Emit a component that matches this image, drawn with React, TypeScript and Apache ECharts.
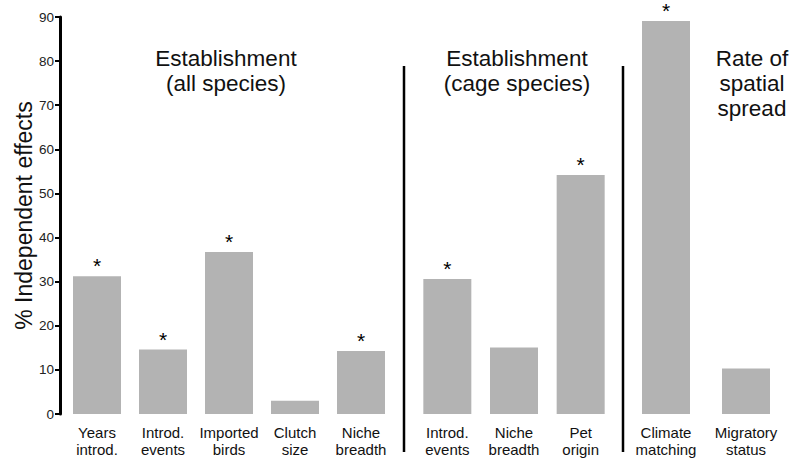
import React, { useEffect, useRef } from "react";
import * as echarts from "echarts";

const categoriesAll = ["Years\nintrod.", "Introd.\nevents", "Imported\nbirds", "Clutch\nsize", "Niche\nbreadth"];
const valuesAll = [31.2, 14.6, 36.7, 3.0, 14.3];
const sigAll = [true, true, true, false, true];

const categoriesCage = ["Introd.\nevents", "Niche\nbreadth", "Pet\norigin"];
const valuesCage = [30.6, 15.1, 54.2];
const sigCage = [true, false, true];

const categoriesSpread = ["Climate\nmatching", "Migratory\nstatus"];
const valuesSpread = [89.1, 10.3];
const sigSpread = [true, false];

const groupTitles = ["Establishment\n(all species)", "Establishment\n(cage species)", "Rate of\nspatial\nspread"];
const yTitle = "% Independent effects";
const yMin = 0;
const yMax = 90;
const yInterval = 10;

const FONT = "'Liberation Sans', Arial, Helvetica, sans-serif";
const BAR_COLOR = "#b3b3b3";

export default function App() {
  const ref = useRef<HTMLDivElement>(null);

  useEffect(() => {
    if (!ref.current) return;
    const chart = echarts.init(ref.current, null, { renderer: "svg" });

    const grids = [
      { left: 64, top: 17, width: 330, height: 397 },
      { left: 414, top: 17, width: 200, height: 397 },
      { left: 626, top: 17, width: 160, height: 397 },
    ];
    const cats = [categoriesAll, categoriesCage, categoriesSpread];
    const vals = [valuesAll, valuesCage, valuesSpread];
    const sigs = [sigAll, sigCage, sigSpread];

    const xAxes = cats.map((c, i) => ({
      type: "category",
      gridIndex: i,
      data: c,
      axisLine: { show: false },
      axisTick: { show: false },
      axisLabel: {
        interval: 0,
        margin: 10,
        fontSize: 15,
        lineHeight: 17,
        color: "#111",
        fontFamily: FONT,
      },
    }));

    const yAxes = grids.map((_, i) => ({
      type: "value",
      gridIndex: i,
      min: yMin,
      max: yMax,
      interval: yInterval,
      show: i === 0,
      offset: 4,
      splitLine: { show: false },
      axisLine: { show: true, lineStyle: { color: "#000", width: 3 } },
      axisTick: { show: true, length: 5, lineStyle: { color: "#000", width: 2 } },
      axisLabel: { fontSize: 13.5, color: "#222", margin: 6, fontFamily: FONT },
      name: i === 0 ? yTitle : "",
      nameLocation: "middle",
      nameGap: 22,
      nameTextStyle: { fontSize: 23, color: "#111", fontFamily: FONT },
    }));

    const series = vals.map((v, i) => ({
      type: "bar",
      xAxisIndex: i,
      yAxisIndex: i,
      data: v,
      barWidth: 48,
      itemStyle: { color: BAR_COLOR },
      label: {
        show: true,
        position: "top",
        distance: 0,
        fontSize: 21,
        color: "#000",
        fontFamily: FONT,
        formatter: (p: any) => (sigs[i][p.dataIndex] ? "*" : ""),
      },
    }));

    const titleX = [226, 517, 752];
    const graphics: any[] = groupTitles.map((t, i) => ({
      type: "text",
      style: {
        text: t,
        x: titleX[i],
        y: 46,
        textAlign: "center",
        fontSize: 22.5,
        lineHeight: 25,
        fill: "#111",
        fontFamily: FONT,
      },
    }));
    const sepX = [404, 623];
    sepX.forEach((x) => {
      graphics.push({
        type: "line",
        shape: { x1: x, y1: 66, x2: x, y2: 452 },
        style: { stroke: "#000", lineWidth: 2.5 },
      });
    });

    chart.setOption({
      animation: false,
      backgroundColor: "#fff",
      grid: grids,
      xAxis: xAxes,
      yAxis: yAxes,
      series,
      graphic: graphics,
    });

    return () => chart.dispose();
  }, []);

  return (
    <div
      ref={ref}
      style={{ position: "fixed", left: 0, top: 0, width: 793, height: 458, background: "#fff" }}
    />
  );
}
